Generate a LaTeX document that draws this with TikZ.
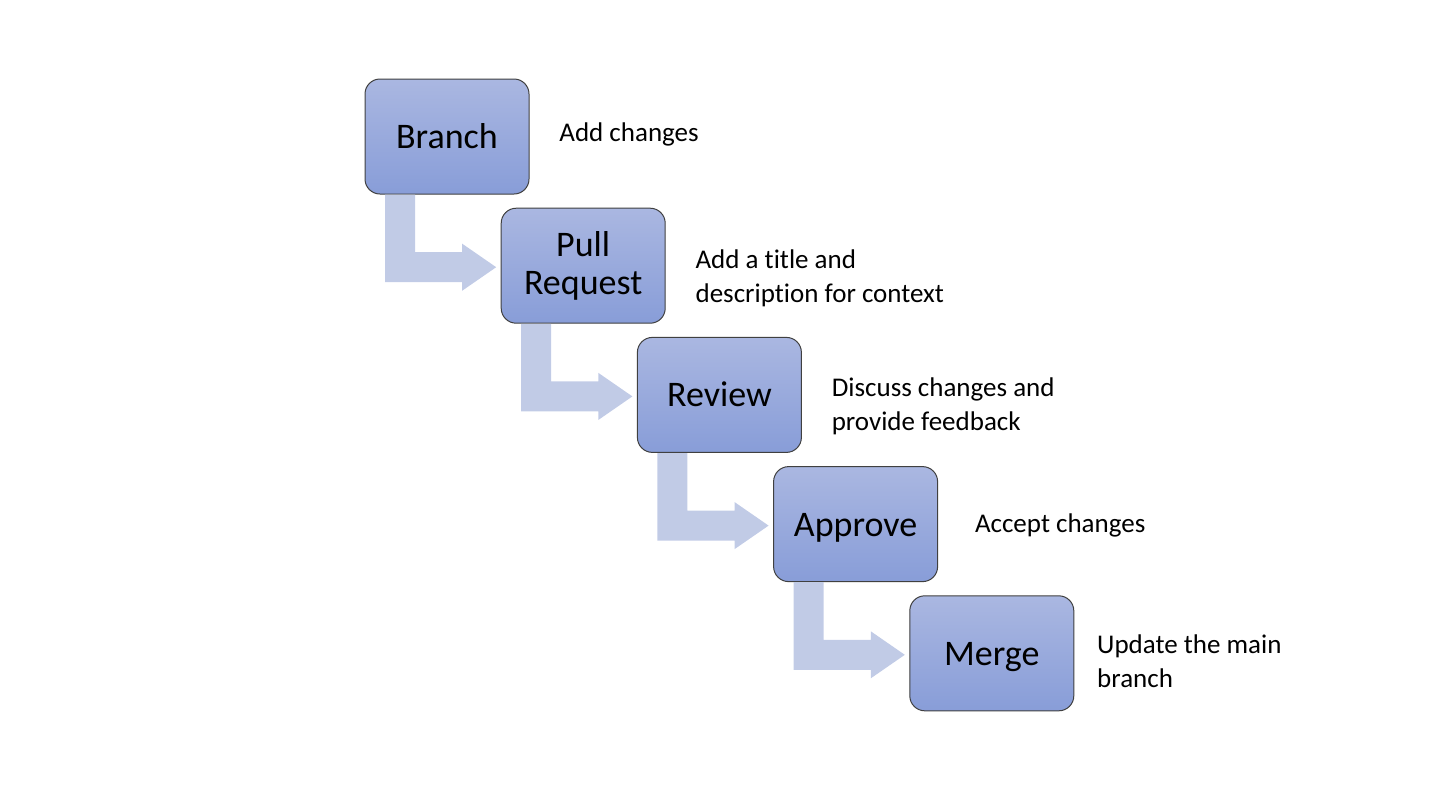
\documentclass[tikz,border=0pt]{standalone}
\usepackage{fontspec}
\setmainfont[Ligatures=NoCommon]{Carlito}
\usetikzlibrary{positioning}
\usetikzlibrary{calc}
\definecolor{boxtop}{RGB}{170,183,225}
\definecolor{boxbottom}{RGB}{136,157,216}
\definecolor{bandfill}{RGB}{193,203,230}
\definecolor{boxline}{RGB}{64,64,64}

\begin{document}
\begin{tikzpicture}[x=0.5pt,y=-0.5pt,node distance=7.1pt and -13.9pt]
\tikzstyle{stagebox}=[draw=boxline,line width=0.5pt,outer sep=0pt,rounded corners=7.5pt,top color=boxtop,bottom color=boxbottom,minimum width=82pt,minimum height=57.5pt,align=center,inner sep=0pt,font=\fontsize{18pt}{19pt}\selectfont]
\tikzstyle{oneline}=[text height=14.5pt,text depth=2.5pt]
\tikzstyle{note}=[anchor=base west,align=left,inner sep=0pt,font=\fontsize{13.5pt}{17pt}\selectfont]
\useasboundingbox (0,0) rectangle (1440,810);
\path node[stagebox,oneline] (b1) at (447,136.5) {Branch};
\path node[stagebox,below right=of b1] (b2) {Pull\\Request};
\path node[stagebox,oneline,below right=of b2] (b3) {Review};
\path node[stagebox,oneline,below right=of b3] (b4) {Approve};
\path node[stagebox,oneline,below right=of b4] (b5) {Merge};

\foreach \s/\t in {b1/b2,b2/b3,b3/b4,b4/b5}
  \fill[bandfill] let \p1=(\s.south west), \p2=(\t.west) in
    (\x1+10pt,\y1-0.3pt) -- (\x1+25pt,\y1-0.3pt) -- (\x1+25pt,\y2+6.75pt) -- (\x2-19.5pt,\y2+6.75pt)
    -- (\x2-19.5pt,\y2+11pt) -- (\x2-2.5pt,\y2-0.75pt) -- (\x2-19.5pt,\y2-12.5pt)
    -- (\x2-19.5pt,\y2-8.25pt) -- (\x1+10pt,\y2-8.25pt) -- cycle;

\path node[note] (n1) at ($(b1.east)+(30,4.5)$) {Add changes};
\path node[note] (n2) at ($(b2.east)+(30,36.5)$) {Add a title and\\description for context};
\path node[note] (n3) at ($(b3.east)+(30,35.5)$) {Discuss changes and\\provide feedback};
\path node[note] (n4) at ($(b4.east)+(37,8.5)$) {Accept changes};
\path node[note] (n5) at ($(b5.east)+(23,34)$) {Update the main\\branch};
\end{tikzpicture}
\end{document}
